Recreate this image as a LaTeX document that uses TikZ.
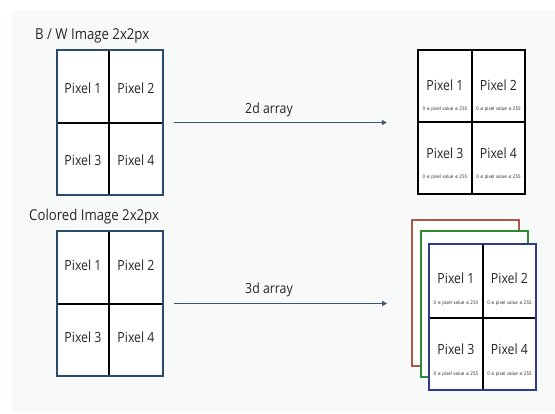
\documentclass[tikz,border=0pt]{standalone}
\usepackage{fontspec}
\setmainfont{Open Sans}[FakeStretch=0.88]
\newfontfamily\dvfont{DejaVu Sans}[FakeStretch=0.85]
\usetikzlibrary{arrows.meta}
\definecolor{bgc}{HTML}{F8F9F9}
\definecolor{navy}{HTML}{2E4A6B}
\definecolor{arrowc}{HTML}{3D5575}
\definecolor{redf}{HTML}{B0574C}
\definecolor{greenf}{HTML}{2F8A34}
\definecolor{bluef}{HTML}{2E3A8C}
\begin{document}
\begin{tikzpicture}[x=1pt,y=-1pt,
  gridbox/.style={draw=navy, line width=1.8pt, fill=white, inner sep=0pt, minimum width=106pt, minimum height=145pt},
  divider/.style={draw=black, line width=1.3pt},
  pix/.style={font=\fontsize{14}{16}\selectfont, text=black!85, inner sep=0pt},
  tiny/.style={font=\dvfont\fontsize{4.8}{5}\selectfont, text=black!80, inner sep=0pt},
  title/.style={font=\fontsize{15}{17}\selectfont, text=black!85, inner sep=0pt, anchor=west},
  arr/.style={draw=arrowc, line width=1.6pt, -{Triangle[length=5pt,width=5pt]}},
  lbl/.style={font=\fontsize{14}{16}\selectfont, text=black!85, inner sep=0pt}
]
\useasboundingbox (0,0) rectangle (555,414);
\fill[bgc] (12,10) rectangle (555,412);

% titles
\node[title] (t1) at (35,36) {B / W Image 2x2px};
\node[title] (t2) at (29,217) {Colored Image 2x2px};

% top-left grid
\node[gridbox] (bw) at (110,122.5) {};
\draw[divider] (109,51) -- (109,194);
\draw[divider] (58,123) -- (162,123);
\node[pix] (bw1) at (83,88) {Pixel 1};
\node[pix] (bw2) at (136,88) {Pixel 2};
\node[pix] (bw3) at (83,160) {Pixel 3};
\node[pix] (bw4) at (136,160) {Pixel 4};

% bottom-left grid
\node[gridbox] (col) at (110,303.5) {};
\draw[divider] (109,232) -- (109,375);
\draw[divider] (58,304) -- (162,304);
\node[pix] (c1) at (83,265) {Pixel 1};
\node[pix] (c2) at (136,265) {Pixel 2};
\node[pix] (c3) at (83,337) {Pixel 3};
\node[pix] (c4) at (136,337) {Pixel 4};

% top-right 2d array
\node[gridbox, draw=black, line width=2.4pt, minimum width=107pt, minimum height=144pt] (arr2) at (471.5,122) {};
\draw[divider] (472,51) -- (472,193);
\draw[divider] (419,122) -- (524,122);
\node[pix] (a1) at (445,85) {Pixel 1};
\node[pix] (a2) at (498.5,85) {Pixel 2};
\node[pix] (a3) at (445,153) {Pixel 3};
\node[pix] (a4) at (498.5,153) {Pixel 4};
\node[tiny] (a1v) at (445,109) {0 ≤ pixel value ≤ 255};
\node[tiny] (a2v) at (498.5,109) {0 ≤ pixel value ≤ 255};
\node[tiny] (a3v) at (445,177) {0 ≤ pixel value ≤ 255};
\node[tiny] (a4v) at (498.5,177) {0 ≤ pixel value ≤ 255};

% bottom-right 3d array stack
\node[gridbox, draw=redf, line width=1.4pt, minimum width=107pt, minimum height=146pt] (rf) at (465.5,293) {};
\node[gridbox, draw=greenf, line width=1.4pt, minimum width=107pt, minimum height=146pt] (gf) at (474.5,304) {};
\node[gridbox, draw=bluef, line width=1.8pt, minimum width=107pt, minimum height=146pt] (bf) at (482.5,317) {};
\draw[divider] (483,245) -- (483,389);
\draw[divider] (430,318) -- (535,318);
\node[pix] (b1) at (456,278) {Pixel 1};
\node[pix] (b2) at (509.5,278) {Pixel 2};
\node[pix] (b3) at (456,349) {Pixel 3};
\node[pix] (b4) at (509.5,349) {Pixel 4};
\node[tiny] (b1v) at (456,303) {0 ≤ pixel value ≤ 255};
\node[tiny] (b2v) at (509.5,303) {0 ≤ pixel value ≤ 255};
\node[tiny] (b3v) at (456,374) {0 ≤ pixel value ≤ 255};
\node[tiny] (b4v) at (509.5,374) {0 ≤ pixel value ≤ 255};

% arrows
\draw[arr, shorten <=10pt, shorten >=30pt] (bw.east) -- (bw.east -| arr2.west);
\draw[arr, shorten <=10pt, shorten >=41pt] (col.east) -- (col.east -| bf.west);
\node[lbl] (l2) at (269,110) {2d array};
\node[lbl] (l3) at (269,290) {3d array};
\end{tikzpicture}
\end{document}
